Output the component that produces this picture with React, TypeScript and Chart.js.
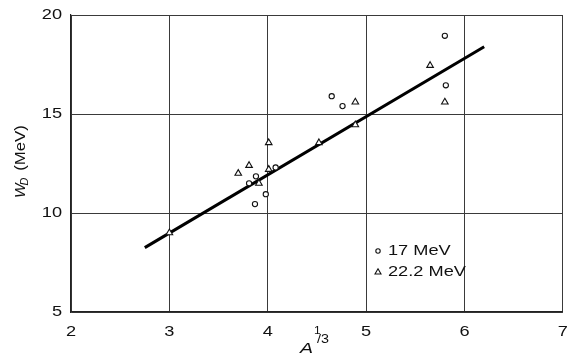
import { useEffect, useRef } from "react";
import { Chart, registerables } from "chart.js";

Chart.register(...registerables);

// Tick positions on both axes
const xTickValues = [2, 3, 4, 5, 6, 7];
const yTickValues = [5, 10, 15, 20];

// 17 MeV measurements (circles)
const mev17X = [4.65, 4.76, 4.08, 3.88, 3.81, 3.98, 3.87, 5.8, 5.81];
const mev17Y = [15.9, 15.4, 12.3, 11.85, 11.5, 10.95, 10.45, 18.95, 16.45];

// 22.2 MeV measurements (triangles)
const mev22X = [3.0, 3.7, 3.81, 4.01, 4.01, 3.91, 4.52, 4.89, 4.89, 5.65, 5.8];
const mev22Y = [9.0, 12.0, 12.4, 13.55, 12.2, 11.5, 13.55, 15.6, 14.45, 17.45, 15.6];

// Straight-line fit endpoints
const fitX = [2.75, 6.2];
const fitY = [8.25, 18.4];

const legendLabels = ["17 MeV", "22.2 MeV"];

const FONT = "'Liberation Sans', Arial, sans-serif";
const STRETCH = 1.3;

function wideText(
  ctx: CanvasRenderingContext2D,
  text: string,
  x: number,
  y: number,
  size: number,
  align: CanvasTextAlign,
  baseline: CanvasTextBaseline,
  italic = false,
  sx = STRETCH
) {
  ctx.save();
  ctx.translate(x, y);
  ctx.scale(sx, 1);
  ctx.font = `${italic ? "italic " : ""}${size}px ${FONT}`;
  ctx.textAlign = align;
  ctx.textBaseline = baseline;
  ctx.fillStyle = "#111";
  ctx.fillText(text, 0, 0);
  const w = ctx.measureText(text).width * sx;
  ctx.restore();
  return w;
}

const textPlugin = {
  id: "paperText",
  afterDraw(chart: any) {
    const { ctx, chartArea, scales } = chart;
    const xs = scales.x;
    const ys = scales.y;

    // y tick labels
    for (const v of yTickValues) {
      wideText(ctx, String(v), chartArea.left - 9, ys.getPixelForValue(v), 14, "right", "middle");
    }
    // x tick labels
    for (const v of xTickValues) {
      wideText(ctx, String(v), xs.getPixelForValue(v), chartArea.bottom + 20, 14, "center", "middle");
    }

    // x title: A^(1/3)
    const ax = 300;
    const aw = wideText(ctx, "A", ax, 353, 15, "left", "alphabetic", true);
    wideText(ctx, "1", ax + aw + 1, 334, 10, "left", "alphabetic", false, 1.2);
    wideText(ctx, "/3", ax + aw + 4, 343, 12, "left", "alphabetic", false, 1.2);

    // y title: W_D (MeV), rotated
    ctx.save();
    ctx.translate(25, 198);
    ctx.rotate(-Math.PI / 2);
    let cx = 0;
    cx += wideText(ctx, "W", cx, 0, 14, "left", "alphabetic", true, 1.1);
    cx += wideText(ctx, "D", cx - 2, 3, 10, "left", "alphabetic", true, 1.1);
    wideText(ctx, " (MeV)", cx, 0, 14, "left", "alphabetic", false, 1.2);
    ctx.restore();

    // legend
    const lx = 378;
    const rows = [251, 272];
    ctx.save();
    ctx.strokeStyle = "#111";
    ctx.lineWidth = 1.1;
    ctx.beginPath();
    ctx.arc(lx, rows[0], 2.2, 0, Math.PI * 2);
    ctx.stroke();
    ctx.beginPath();
    ctx.moveTo(lx, rows[1] - 3.2);
    ctx.lineTo(lx + 3, rows[1] + 2);
    ctx.lineTo(lx - 3, rows[1] + 2);
    ctx.closePath();
    ctx.stroke();
    ctx.restore();
    legendLabels.forEach((t, i) => {
      wideText(ctx, t, lx + 10, rows[i], 14, "left", "middle");
    });
  },
};

export default function App() {
  const canvasRef = useRef<HTMLCanvasElement | null>(null);

  useEffect(() => {
    const canvas = canvasRef.current;
    if (!canvas) return;

    const circles = mev17X.map((x, i) => ({ x, y: mev17Y[i] }));
    const triangles = mev22X.map((x, i) => ({ x, y: mev22Y[i] }));
    const fit = fitX.map((x, i) => ({ x, y: fitY[i] }));

    const gridColor = "#3a3a3a";

    const chart = new Chart(canvas, {
      type: "scatter",
      data: {
        datasets: [
          {
            label: legendLabels[0],
            data: circles,
            pointStyle: "circle",
            pointRadius: 2.6,
            pointBorderWidth: 1.1,
            pointBackgroundColor: "#fff",
            pointBorderColor: "#111",
          },
          {
            label: legendLabels[1],
            data: triangles,
            pointStyle: "triangle",
            pointRadius: 3.8,
            pointBorderWidth: 1.1,
            pointBackgroundColor: "#fff",
            pointBorderColor: "#111",
          },
          {
            type: "line",
            label: "fit",
            data: fit,
            showLine: true,
            borderColor: "#000",
            borderWidth: 3,
            pointRadius: 0,
            fill: false,
          },
        ],
      } as any,
      options: {
        responsive: false,
        animation: false,
        devicePixelRatio: 1,
        layout: { padding: { left: 0, top: 15, right: 5, bottom: 0 } },
        plugins: {
          legend: { display: false },
          tooltip: { enabled: false },
        },
        scales: {
          x: {
            type: "linear",
            min: 2,
            max: 7,
            ticks: { display: false, stepSize: 1 },
            grid: { color: gridColor, lineWidth: 1, drawTicks: false },
            border: { color: "#222", width: 1.2 },
            afterFit: (s: any) => {
              s.height = 52;
            },
          },
          y: {
            type: "linear",
            min: 5,
            max: 20,
            ticks: { display: false, stepSize: 5 },
            grid: { color: gridColor, lineWidth: 1, drawTicks: false },
            border: { color: "#222", width: 1.2 },
            afterFit: (s: any) => {
              s.width = 71;
            },
          },
        },
      } as any,
      plugins: [textPlugin],
    });

    return () => chart.destroy();
  }, []);

  return (
    <div style={{ position: "fixed", left: 0, top: 0, width: 568, height: 364, background: "#fff" }}>
      <canvas ref={canvasRef} width={568} height={364} style={{ width: 568, height: 364, display: "block" }} />
    </div>
  );
}
